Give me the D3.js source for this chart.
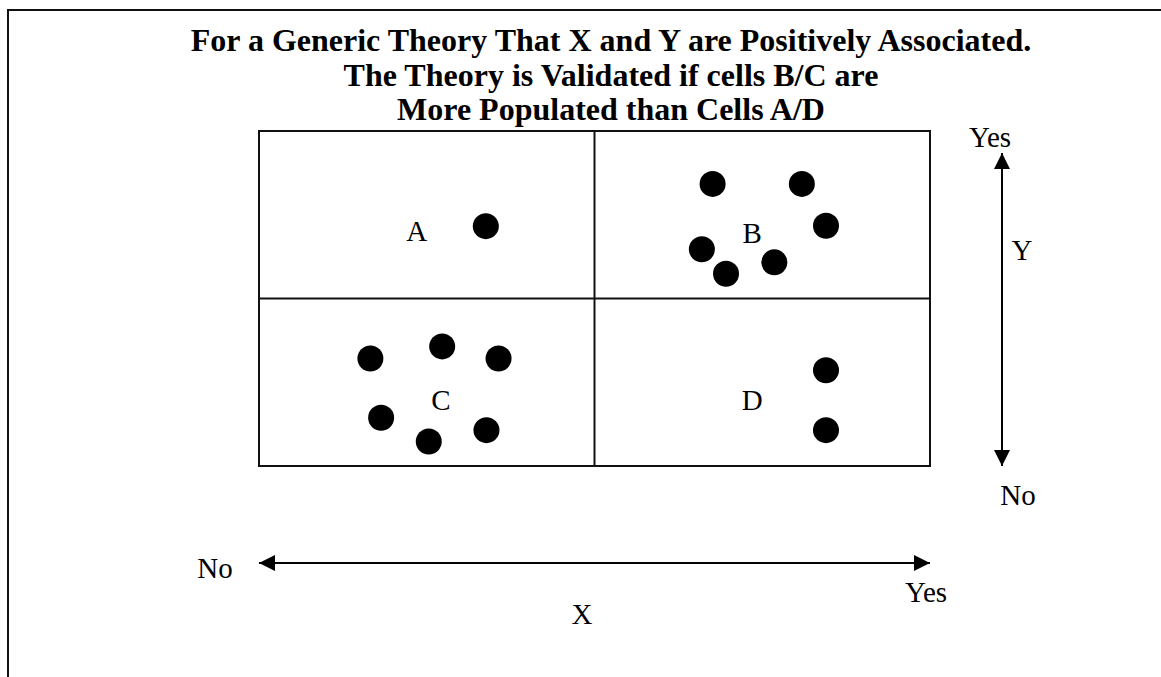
<!DOCTYPE html>
<html><head><meta charset="utf-8">
<script src="https://cdn.jsdelivr.net/npm/d3@7"></script>
<style>html,body{margin:0;padding:0;background:#fff;}svg{display:block;}</style>
</head><body>
<script>
// ---- data ----
const titleLines = [
  "For a Generic Theory That X and Y are Positively Associated.",
  "The Theory is Validated if cells B/C are",
  "More Populated than Cells A/D"
];
const cellNames = ["A", "B", "C", "D"];
// label positions in percent of grid (x: 0..100 left->right, y: 0..100 bottom->top)
const cellLabelX = [23.5, 73.5, 27.1, 73.5];
const cellLabelY = [70.2, 69.6, 19.7, 19.7];
// points per cell
const dotsA = [[33.8, 71.6]];
const dotsB = [[67.6, 84.2], [80.9, 84.2], [84.5, 71.7], [66.0, 64.7], [69.6, 57.4], [76.8, 60.8]];
const dotsC = [[16.6, 32.1], [27.3, 35.7], [35.7, 32.1], [18.2, 14.4], [25.3, 7.3], [33.9, 10.7]];
const dotsD = [[84.5, 28.6], [84.5, 10.7]];
const xAxisLabels = ["No", "Yes"];
const yAxisLabels = ["No", "Yes"];
const xAxisTitle = "X";
const yAxisTitle = "Y";

// ---- drawing ----
const W = 1161, H = 677;
const svg = d3.select("body").append("svg").attr("width", W).attr("height", H);
const serif = "'Liberation Serif','Times New Roman',Times,serif";

// outer frame (only top and left visible)
svg.append("path").attr("d", `M8,${H + 5} L8,10 L${W + 5},10`)
  .attr("fill", "none").attr("stroke", "#111").attr("stroke-width", 2);

const x = d3.scaleLinear().domain([0, 100]).range([259, 930]);
const y = d3.scaleLinear().domain([0, 100]).range([466, 131]);

// title
svg.append("g").selectAll("text").data(titleLines).join("text")
  .attr("x", 611).attr("y", (d, i) => 51 + i * 34.5)
  .attr("text-anchor", "middle")
  .attr("font-family", serif).attr("font-weight", "bold").attr("font-size", 32)
  .text(d => d);

// grid
const grid = svg.append("g").attr("stroke", "#111").attr("stroke-width", 2).attr("fill", "none");
grid.append("rect").attr("x", x(0)).attr("y", y(100)).attr("width", x(100) - x(0)).attr("height", y(0) - y(100));
grid.append("line").attr("x1", x(50)).attr("x2", x(50)).attr("y1", y(0)).attr("y2", y(100));
grid.append("line").attr("x1", x(0)).attr("x2", x(100)).attr("y1", y(50)).attr("y2", y(50));

// cell labels
svg.append("g").selectAll("text").data(cellNames).join("text")
  .attr("x", (d, i) => x(cellLabelX[i])).attr("y", (d, i) => y(cellLabelY[i]))
  .attr("dy", "0.35em").attr("text-anchor", "middle")
  .attr("font-family", serif).attr("font-size", 29)
  .text(d => d);

// dots
const allDots = [].concat(dotsA, dotsB, dotsC, dotsD);
svg.append("g").selectAll("circle").data(allDots).join("circle")
  .attr("cx", d => x(d[0])).attr("cy", d => y(d[1])).attr("r", 13).attr("fill", "#000");

// arrow markers
const defs = svg.append("defs");
defs.append("marker").attr("id", "ah").attr("viewBox", "0 0 16 16")
  .attr("refX", 16).attr("refY", 8).attr("markerWidth", 16).attr("markerHeight", 16)
  .attr("markerUnits", "userSpaceOnUse").attr("orient", "auto-start-reverse")
  .append("path").attr("d", "M0,0 L16,8 L0,16 Z").attr("fill", "#000");

// X arrow
const xArrowY = 563;
svg.append("line").attr("x1", x(0)).attr("x2", x(100)).attr("y1", xArrowY).attr("y2", xArrowY)
  .attr("stroke", "#000").attr("stroke-width", 2)
  .attr("marker-start", "url(#ah)").attr("marker-end", "url(#ah)");

// Y arrow
const yArrowX = 1002;
const yArr = d3.scaleLinear().domain([0, 100]).range([466, 153]);
svg.append("line").attr("x1", yArrowX).attr("x2", yArrowX).attr("y1", yArr(0)).attr("y2", yArr(100))
  .attr("stroke", "#000").attr("stroke-width", 2)
  .attr("marker-start", "url(#ah)").attr("marker-end", "url(#ah)");

const txt = (tx, ty, s) => svg.append("text").attr("x", tx).attr("y", ty)
  .attr("text-anchor", "middle").attr("font-family", serif).attr("font-size", 29).text(s);

txt(215, 578, xAxisLabels[0]);
txt(926, 602, xAxisLabels[1]);
txt(582, 624, xAxisTitle);
txt(990, 147, yAxisLabels[1]);
txt(1018, 505, yAxisLabels[0]);
txt(1022, 260, yAxisTitle);
</script>
</body></html>
